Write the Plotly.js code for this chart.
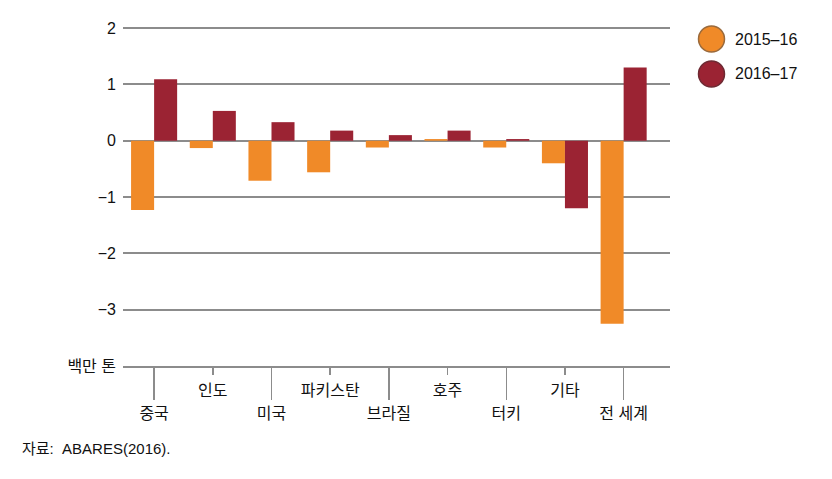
<!DOCTYPE html>
<html>
<head>
<meta charset="utf-8">
<script src="https://cdn.plot.ly/plotly-3.0.1.min.js"></script>
<style>html,body{margin:0;padding:0;background:#fff;}#chart{width:832px;height:479px;}</style>
</head>
<body>
<div id="chart"></div>
<script>
var categories = ["중국", "인도", "미국", "파키스탄", "브라질", "호주", "터키", "기타", "전 세계"];
var seriesNames = ["2015–16", "2016–17"];
var values2015 = [-1.23, -0.13, -0.71, -0.56, -0.12, 0.03, -0.12, -0.40, -3.25];
var values2016 = [1.09, 0.53, 0.33, 0.18, 0.10, 0.18, 0.03, -1.20, 1.30];
var yTickVals = [2, 1, 0, -1, -2, -3, -4];
var yTickText = ["2", "1", "0", "−1", "−2", "−3", "백만 톤"];
var sourceText = "자료:  ABARES(2016).";

var colors = ["#F08A28", "#9B2333"];
var borders = ["#9A6A3C", "#6E2A33"];
var FONT = "Liberation Sans, Noto Sans CJK KR, sans-serif";
var idx = categories.map(function(c, i){ return i; });
var evenIdx = idx.filter(function(i){ return i % 2 === 0; });
var oddIdx = idx.filter(function(i){ return i % 2 === 1; });
var xr = [-0.53, 8.79];
var TOP = 27, BOT = 366, LEFT = 123, RIGHT = 670;
var yr = [-4, 2.02];

var traces = [
  {type: "bar", x: idx, y: values2015, name: seriesNames[0], marker: {color: colors[0]}, showlegend: false, hoverinfo: "y"},
  {type: "bar", x: idx, y: values2016, name: seriesNames[1], marker: {color: colors[1]}, showlegend: false, hoverinfo: "y"},
  {type: "scatter", mode: "markers", x: idx, y: values2016, xaxis: "x2", yaxis: "y",
   marker: {opacity: 0, size: 1}, showlegend: false, hoverinfo: "skip"}
];

function py(pix){ return (BOT - pix) / (BOT - TOP); }
function px(pix){ return (pix - LEFT) / (RIGHT - LEFT); }

var shapes = [];
var annotations = [];
var legendY = [39, 74];
seriesNames.forEach(function(n, i){
  shapes.push({type: "circle", xref: "paper", yref: "paper",
    xsizemode: "pixel", ysizemode: "pixel", xanchor: px(711.5), yanchor: py(legendY[i]),
    x0: -13, x1: 13, y0: -13, y1: 13,
    fillcolor: colors[i], line: {color: borders[i], width: 1.5}});
  annotations.push({xref: "paper", yref: "paper", x: px(733), y: py(legendY[i]),
    xanchor: "left", yanchor: "middle", showarrow: false, text: n,
    font: {family: FONT, size: 16, color: "#111"}});
});
annotations.push({xref: "paper", yref: "paper", x: px(20), y: py(448),
  xanchor: "left", yanchor: "middle", showarrow: false, text: sourceText,
  font: {family: FONT, size: 15, color: "#111"}});

var layout = {
  width: 832, height: 479,
  margin: {l: LEFT, r: 832 - RIGHT, t: TOP, b: 479 - BOT},
  paper_bgcolor: "#ffffff", plot_bgcolor: "#ffffff",
  barmode: "group", bargap: 0.215, bargroupgap: 0,
  showlegend: false,
  font: {family: FONT, size: 16, color: "#111"},
  xaxis: {type: "linear", range: xr, tickmode: "array", tickvals: oddIdx,
    ticktext: oddIdx.map(function(i){ return categories[i]; }),
    ticks: "outside", ticklen: 7, tickwidth: 1.5, tickcolor: "#8c8c8c",
    showline: true, linecolor: "#8c8c8c", linewidth: 2, showgrid: false, zeroline: false,
    ticklabelstandoff: 2, tickfont: {family: FONT, size: 16, color: "#111"}, fixedrange: true},
  xaxis2: {type: "linear", range: xr, overlaying: "x", anchor: "y", side: "bottom", tickmode: "array", tickvals: evenIdx,
    ticktext: evenIdx.map(function(i){ return categories[i]; }),
    ticks: "outside", ticklen: 33, tickwidth: 1.5, tickcolor: "#8c8c8c",
    showline: false, showgrid: false, zeroline: false,
    ticklabelstandoff: 0, tickfont: {family: FONT, size: 16, color: "#111"}, fixedrange: true},
  yaxis: {range: yr, tickmode: "array", tickvals: yTickVals, ticktext: yTickText,
    showgrid: true, gridcolor: "#8c8c8c", gridwidth: 2, zeroline: true, zerolinecolor: "#8c8c8c", zerolinewidth: 2,
    showline: false, ticks: "", ticklabelstandoff: 6, tickfont: {family: FONT, size: 16, color: "#111"}, fixedrange: true},
  shapes: shapes,
  annotations: annotations
};

Plotly.newPlot("chart", traces, layout, {displayModeBar: false, staticPlot: true});
</script>
</body>
</html>
